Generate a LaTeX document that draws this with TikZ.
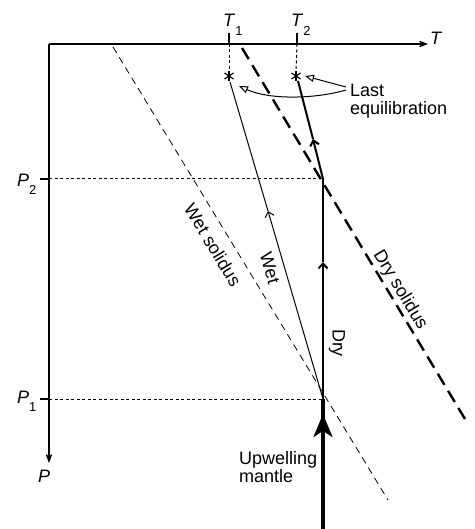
\documentclass[tikz,border=0pt]{standalone}
\usepackage{fontspec}
\setmainfont{Liberation Sans}
\usetikzlibrary{arrows.meta}
\newcommand\mysub[1]{\raisebox{-0.45em}{\fontsize{13}{13}\selectfont #1}}
\begin{document}
\begin{tikzpicture}[x=1pt,y=-1pt,
  lbl/.style={inner sep=0pt, font=\fontsize{18}{18}\selectfont},
  axisline/.style={line width=1.8pt},
  axtip/.style={-{Stealth[length=17pt,width=13pt,inset=12pt]}},
  dotline/.style={line width=1pt, dash pattern=on 3pt off 2.5pt},
  chev/.style={-{Straight Barb[length=5pt,width=9pt]}},
  wetsol/.style={line width=0.8pt, dash pattern=on 7pt off 5pt},
  drysol/.style={line width=2.4pt, dash pattern=on 13pt off 7pt},
  callout/.style={line width=1pt, -{Triangle[open,length=9pt,width=7pt]}},
  star/.style={line width=1.2pt}
]
\useasboundingbox (0,0) rectangle (474,529);

% coordinates
\coordinate (O) at (49,44);
\coordinate (Tend) at (428,44);
\coordinate (Pend) at (49,463);
\coordinate (T1) at (229,44);
\coordinate (T2) at (297,44);
\coordinate (T1top) at (229,33);
\coordinate (T2top) at (297,33);
\coordinate (S1) at (229,76);
\coordinate (S2) at (296,76);
\coordinate (S1b) at (229,71);
\coordinate (S2b) at (296,71);
\coordinate (P2) at (49,179);
\coordinate (P1) at (49,399);
\coordinate (P2l) at (40,179);
\coordinate (P1l) at (40,399);
\coordinate (B) at (323,529);
\coordinate (A1) at (323,399);
\coordinate (A2) at (323,179);
\coordinate (D2) at (298,81);
\coordinate (W1) at (230,82);
\coordinate (bigtip) at (323,414);
\coordinate (chevA) at (323,262);
\coordinate (chevB) at (313,139);
\coordinate (chevW) at (268,211);
\coordinate (ws1) at (113,47);
\coordinate (ws2) at (388,500);
\coordinate (ds1) at (242,48);
\coordinate (ds2) at (465,419);
\coordinate (L1) at (346,87);
\coordinate (L2) at (346,90);
\coordinate (L1tip) at (305,76);
\coordinate (L2tip) at (239,86);

% axes
\draw[axisline,axtip] (O) -- (Tend);
\draw[axisline,axtip] (O) -- (Pend);
\draw[line width=1.2pt] (T1) -- (T1top);
\draw[line width=1.2pt] (T2) -- (T2top);
\draw[line width=1.2pt] (P2) -- (P2l);
\draw[line width=1.2pt] (P1) -- (P1l);

% dotted guides
\draw[dotline] (P2) -- (A2);
\draw[dotline] (P1) -- (A1);
\draw[dotline] (T1) -- (S1b);
\draw[dotline] (T2) -- (S2b);

% solidi
\draw[wetsol] (ws1) -- (ws2);
\draw[drysol] (ds1) -- (ds2);

% stars
\foreach \s in {S1,S2}{
  \draw[star] (\s) +(0,-5) -- +(0,5);
  \draw[star] (\s) +(-4.5,-3) -- +(4.5,3);
  \draw[star] (\s) +(-4.5,3) -- +(4.5,-3);
}

% dry path
\draw[line width=3.2pt] (B) -- (A1);
\draw[line width=2pt,chev] (A1) -- (chevA);
\draw[line width=2pt] (chevA) -- (A2);
\draw[line width=2pt,chev] (A2) -- (chevB);
\draw[line width=2pt] (chevB) -- (D2);
\draw[line width=3.2pt,-{Stealth[length=23pt,width=19pt,inset=6pt]}] (B) -- (bigtip);

% wet path
\draw[line width=1pt,chev] (A1) -- (chevW);
\draw[line width=1pt] (chevW) -- (W1);

% callouts
\draw[callout] (L1) -- (L1tip);
\draw[callout] (L2) .. controls (315,99) and (270,100) .. (L2tip);

% labels
\node[lbl,anchor=base west] (lT1) at (223,27) {\textit{T}\mysub{1}};
\node[lbl,anchor=base west] (lT2) at (291,27) {\textit{T}\mysub{2}};
\node[lbl,anchor=base west] (lT) at (430,45) {\textit{T}};
\node[lbl,anchor=base west] (lP) at (38,482) {\textit{P}};
\node[lbl,anchor=base west] (lP2) at (17,186) {\textit{P}\mysub{2}};
\node[lbl,anchor=base west] (lP1) at (17,403) {\textit{P}\mysub{1}};
\node[lbl,anchor=west,align=left] (last) at (350,101) {Last\\equilibration};
\node[lbl,anchor=west,align=left] (up) at (239,467) {Upwelling\\mantle};
\node[lbl,rotate=-58.8] (wsl) at (213,245) {Wet solidus};
\node[lbl,rotate=-73.9] (wl) at (270,268) {Wet};
\node[lbl,rotate=-90] (dl) at (337,343) {Dry};
\node[lbl,rotate=-59] (dsl) at (400,290) {Dry solidus};
\end{tikzpicture}
\end{document}
